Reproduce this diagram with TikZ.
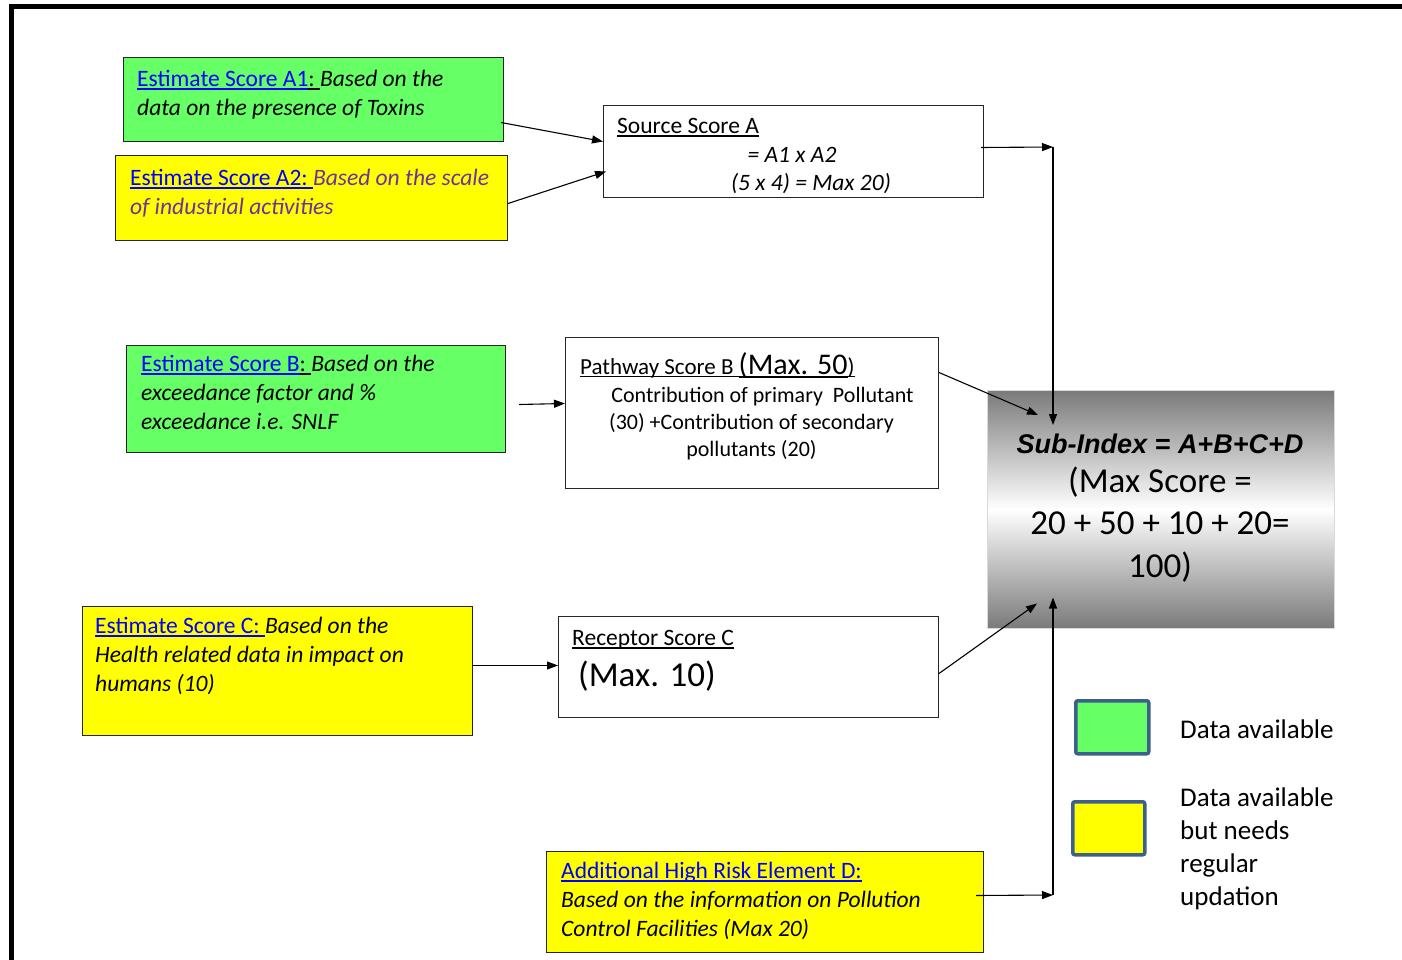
\documentclass[tikz,border=0pt]{standalone}
\usepackage{fontspec}
\setmainfont{Carlito}
\newfontfamily\arialfont{Liberation Sans}
\usetikzlibrary{arrows.meta,calc}
\definecolor{boxgreen}{HTML}{66FF66}
\definecolor{boxyellow}{HTML}{FFFF00}
\definecolor{linkblue}{HTML}{0000FF}
\definecolor{textpurple}{HTML}{7030A0}
\definecolor{legendedge}{HTML}{3C5F8C}
\definecolor{subgray}{HTML}{7A7A7A}
\newsavebox{\myulbox}
\newcommand{\myul}[1]{\leavevmode\sbox{\myulbox}{#1}\rlap{\rule[-0.13em]{\wd\myulbox}{0.05em}}\usebox{\myulbox}}
\newcommand{\lnk}[1]{\textcolor{linkblue}{\myul{#1}}}
\begin{document}
\begin{tikzpicture}[x=1pt,y=-1pt,
  box/.style={draw=black!85,line width=1pt,anchor=north west,inner sep=0pt},
  txt/.style={anchor=base west,inner sep=0pt,align=left,font=\fontsize{23.5pt}{29pt}\selectfont},
  conn/.style={draw=black,line width=1.1pt,-{Triangle[length=11pt,width=8pt]}},
  legbox/.style={draw=legendedge,line width=3.5pt,rounded corners=2pt,anchor=north west,inner sep=0pt}]
\useasboundingbox (0,0) rectangle (1402,960);
% frame
\draw[line width=5pt] (11.5,960) -- (11.5,6.5) -- (1402,6.5);
% boxes
\node[box,fill=boxgreen,minimum width=380pt,minimum height=84pt] (a1) at (123,57) {};
\node[box,fill=boxyellow,minimum width=392pt,minimum height=85pt] (a2) at (115,155) {};
\node[box,fill=white,minimum width=380pt,minimum height=92pt] (srcA) at (603,105) {};
\node[box,fill=boxgreen,minimum width=379pt,minimum height=107pt] (b) at (126,345) {};
\node[box,fill=white,minimum width=373pt,minimum height=151pt] (pathB) at (565,337) {};
\node[box,fill=boxyellow,minimum width=390pt,minimum height=129pt] (c) at (82,606) {};
\node[box,fill=white,minimum width=380pt,minimum height=101pt] (recC) at (558,616) {};
\node[box,fill=boxyellow,minimum width=437pt,minimum height=101pt] (d) at (546,851) {};
\node[anchor=north west,inner sep=0pt,minimum width=347pt,minimum height=238pt,top color=subgray,bottom color=subgray,middle color=white,draw=black!15,line width=0.5pt] (sub) at (987,390) {};
% texts (base anchor = baseline of last line)
\node[txt] (a1t) at (137,115.5) {\lnk{Estimate Score A1}\myul{:~}\textit{Based on the}\\\textit{data on the presence of Toxins}};
\node[txt] (a2t) at (130,214.5) {\lnk{Estimate Score A2:~}\textcolor{textpurple}{\textit{Based on the scale}}\\\textcolor{textpurple}{\textit{of industrial activities}}};
\node[txt] (sa1) at (617,133.5) {\myul{Source Score A}};
\node[txt,anchor=base] (sa2) at (792,162.5) {\textit{= A1 x A2}};
\node[txt,anchor=base] (sa3) at (811,190.5) {\textit{(5 x 4) = Max 20)}};
\node[txt] (bt) at (141,429.5) {\lnk{Estimate Score B}\myul{:~}\textit{Based on the}\\\textit{exceedance factor and \%}\\\textit{exceedance i.e. SNLF}};
\node[txt,font=\fontsize{23pt}{28pt}\selectfont] (pb1) at (580,374) {\myul{Pathway Score B~}{\fontsize{30pt}{36pt}\selectfont\myul{(Max. 50}}\myul{)}};
\node[txt,align=center,anchor=base,font=\fontsize{22pt}{27pt}\selectfont] (pb2) at (751.5,456) {\hspace*{22pt}Contribution of primary\ \ Pollutant\\(30) +Contribution of secondary\\pollutants (20)};
\node[anchor=base,inner sep=0pt,font=\arialfont\bfseries\itshape\fontsize{27pt}{32pt}\selectfont] (s1) at (1160,453.5) {Sub-Index = A+B+C+D};
\node[anchor=base,inner sep=0pt,align=center,font=\fontsize{35pt}{42.5pt}\selectfont] (s2) at (1160,577) {(Max Score =\\20 + 50 + 10 + 20=\\100)};
\node[txt] (ct) at (95,691.5) {\lnk{Estimate Score C:~}\textit{Based on the}\\\textit{Health related data in impact on}\\\textit{humans (10)}};
\node[txt] (rc1) at (572,645.5) {\myul{Receptor Score C}};
\node[txt,font=\fontsize{35pt}{42pt}\selectfont] (rc2) at (578,686) {(Max. 10)};
\node[txt] (dt) at (561,936.5) {\lnk{Additional High Risk Element D:}\\\textit{Based on the information on Pollution}\\\textit{Control Facilities (Max 20)}};
% legend
\node[legbox,fill=boxgreen,minimum width=73pt,minimum height=53pt] (lg) at (1074,699) {};
\node[legbox,fill=boxyellow,minimum width=72pt,minimum height=53pt] (ly) at (1071,800) {};
\node[txt,font=\fontsize{27pt}{33pt}\selectfont] (lgt) at (1180,738) {Data available};
\node[txt,font=\fontsize{27pt}{33pt}\selectfont] (lyt) at (1180,905) {Data available\\but needs\\regular\\updation};
% connectors
\coordinate (cA) at (1053,147);
\coordinate (cD) at (1053,895);
\draw[conn] ($(a1.east)+(-3,23)$) -- ($(srcA.west)+(0,-10)$);
\draw[conn] ($(a2.east)+(0,5.5)$) -- ($(srcA.west)+(3,20)$);
\draw[conn] ($(srcA.east)+(-3,-4)$) -- (cA);
\draw[conn] (cA) -- ($(sub.north west)+(66,35)$);
\draw[conn] ($(pathB.east)+(0,-40.5)$) -- ($(sub.north west)+(51,25)$);
\draw[conn] ($(b.east)+(13,5.5)$) -- ($(pathB.west)+(0,-9.5)$);
\draw[conn] ($(c.east)+(0,-5.5)$) -- ($(recC.west)+(0,-1.5)$);
\draw[conn] ($(recC.east)+(0,6.5)$) -- ($(sub.south west)+(50,-25)$);
\draw[conn] ($(d.east)+(-8,-6.5)$) -- (cD);
\draw[conn] (cD) -- ($(sub.south west)+(66,-31)$);
\end{tikzpicture}
\end{document}
